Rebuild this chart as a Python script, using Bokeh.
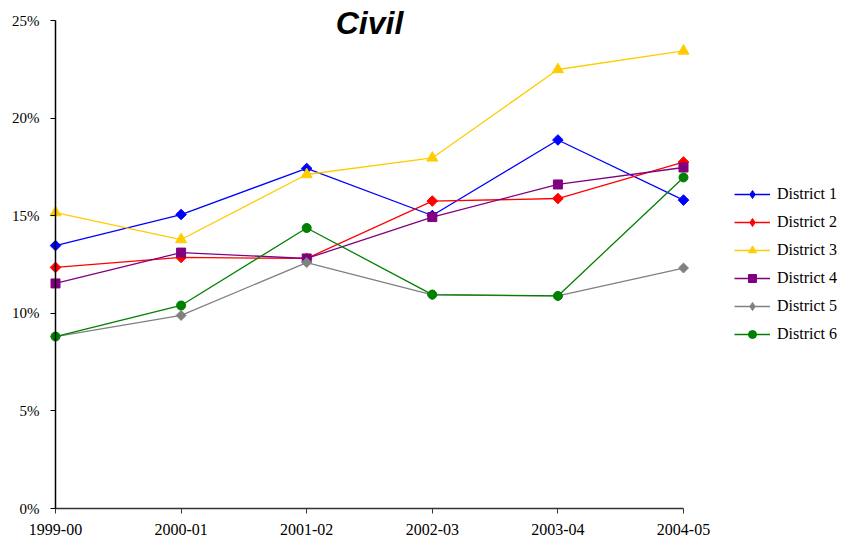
import numpy as np
from bokeh.plotting import figure
from bokeh.models import (Range1d, FixedTicker, NumeralTickFormatter, Legend, LegendItem, Label,
                          ColumnDataSource)
from bokeh.embed import file_html
from bokeh.resources import INLINE

years = ["1999-00", "2000-01", "2001-02", "2002-03", "2003-04", "2004-05"]
district_1 = [0.1347, 0.1506, 0.1742, 0.1501, 0.1888, 0.1580]
district_2 = [0.1235, 0.1286, 0.1281, 0.1575, 0.1588, 0.1775]
district_3 = [0.1516, 0.1378, 0.1711, 0.1796, 0.2249, 0.2344]
district_4 = [0.1153, 0.1311, 0.1281, 0.1493, 0.1660, 0.1747]
district_5 = [0.0881, 0.0989, 0.1260, 0.1094, 0.1089, 0.1232]
district_6 = [0.0881, 0.1040, 0.1437, 0.1096, 0.1089, 0.1696]
y_ticks = [0.0, 0.05, 0.10, 0.15, 0.20, 0.25]
series_names = ["District 1", "District 2", "District 3", "District 4", "District 5", "District 6"]

series = [district_1, district_2, district_3, district_4, district_5, district_6]
colors = ["#0000FF", "#FF0000", "#FFCC00", "#800080", "#808080", "#008000"]
markers = ["square", "square", "triangle", "square", "square", "circle"]
legend_markers = ["diamond", "diamond", "triangle", "square", "diamond", "circle"]
angles = [np.pi / 4, np.pi / 4, 0, 0, np.pi / 4, 0]
sizes = [7.5, 7.5, 11, 9, 7, 9]

xs = list(range(len(years)))

# canvas geometry: plot area spans x 55..683, y 20..508 inside an 843x541 canvas
W, H = 843, 541
left, right, top, bottom = 55, 683, 20, 508
nx = len(years) - 1
ymax = 0.25
ppx = (right - left) / nx
ppy = (bottom - top) / ymax
x_range = Range1d(0 - left / ppx, nx + (W - right) / ppx)
y_range = Range1d(0 - (H - bottom) / ppy, ymax + top / ppy)

p = figure(width=W, height=H, output_backend="svg", toolbar_location=None,
           x_range=x_range, y_range=y_range,
           min_border_left=0, min_border_right=0, min_border_top=0, min_border_bottom=0)
p.outline_line_color = None
p.xgrid.visible = False
p.ygrid.visible = False
p.background_fill_color = "white"

# axes (fixed at the data origin)
p.xaxis.fixed_location = 0
p.xaxis.bounds = (0, nx)
p.xaxis.ticker = FixedTicker(ticks=xs)
p.xaxis.major_label_overrides = {i: y for i, y in enumerate(years)}
p.xaxis.minor_tick_line_color = None
p.xaxis.major_tick_in = 0
p.xaxis.major_tick_out = 5
p.xaxis.axis_line_color = "#333333"
p.xaxis.axis_line_width = 1.5
p.xaxis.major_tick_line_color = "#333333"
p.xaxis.major_label_text_font = "Liberation Serif"
p.xaxis.major_label_text_font_size = "16px"
p.xaxis.major_label_text_color = "black"
p.xaxis.major_label_standoff = 10

p.yaxis.fixed_location = 0
p.yaxis.bounds = (0, ymax)
p.yaxis.ticker = FixedTicker(ticks=y_ticks)
p.yaxis.formatter = NumeralTickFormatter(format="0%")
p.yaxis.minor_tick_line_color = None
p.yaxis.major_tick_in = 0
p.yaxis.major_tick_out = 5
p.yaxis.axis_line_color = "black"
p.yaxis.axis_line_width = 1.5
p.yaxis.major_tick_line_color = "black"
p.yaxis.major_label_text_font = "Liberation Serif"
p.yaxis.major_label_text_font_size = "15px"
p.yaxis.major_label_text_color = "black"
p.yaxis.major_label_standoff = 11

items = []
for name, vals, c, m, lm, a, s in zip(series_names, series, colors, markers, legend_markers, angles, sizes):
    lr = p.line(xs, vals, line_color=c, line_width=1.3)
    p.scatter(xs, vals, marker=m, size=s, angle=a, fill_color=c, line_color=c, line_width=1)
    # legend swatch marker (not drawn in the plot area: no finite points)
    key = p.scatter(x=[np.nan], y=[np.nan], marker=lm, size=s, fill_color=c, line_color=c, line_width=1)
    items.append(LegendItem(label=name, renderers=[lr, key]))

legend = Legend(items=items, location=(729, 192), padding=5, margin=0, spacing=8,
                glyph_height=20, glyph_width=36, label_height=20, label_standoff=7,
                label_text_font="Liberation Serif", label_text_font_size="16px",
                label_text_color="black", background_fill_alpha=0, border_line_alpha=0)
p.add_layout(legend)

title = Label(x=nx / 2, y=ymax, y_offset=-2, text="Civil",
              text_align="center", text_baseline="alphabetic",
              text_font="Liberation Sans", text_font_size="32px",
              text_font_style="bold italic", text_color="black")
p.add_layout(title)

open("out.html", "w").write(file_html(p, INLINE))
